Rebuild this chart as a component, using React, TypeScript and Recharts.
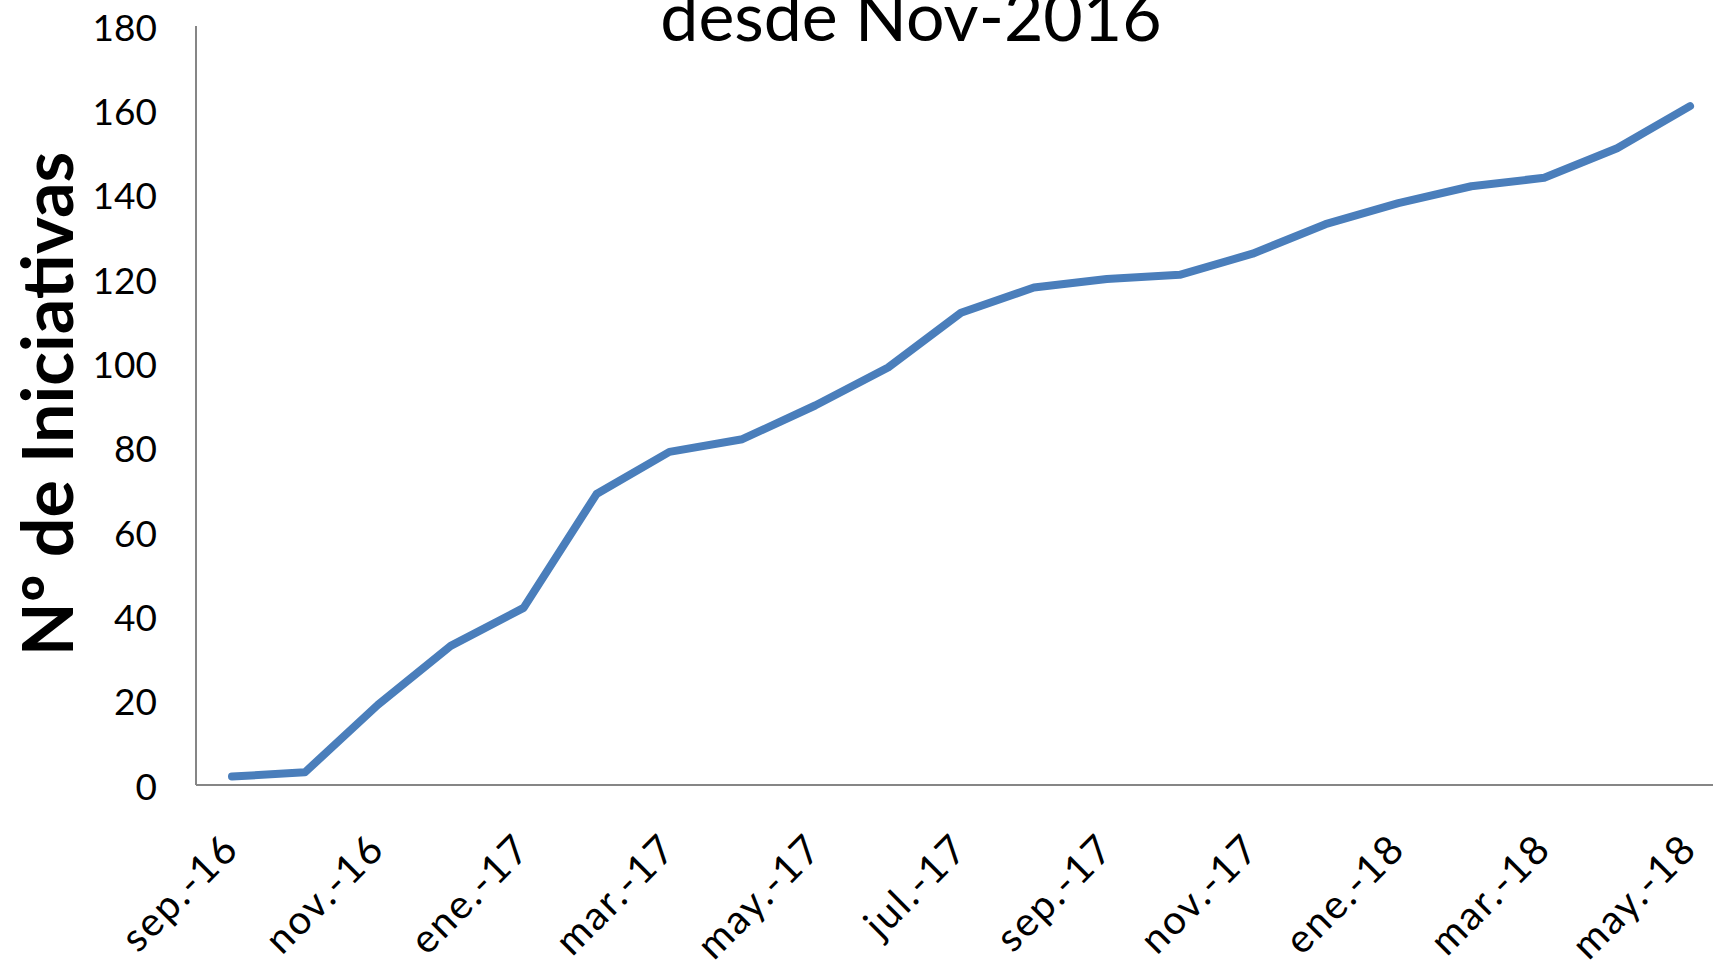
import React from 'react';
import { LineChart, Line, XAxis, YAxis, Label } from 'recharts';

// meses (uno por punto), de sep-16 a may-18
const meses = [
  'sep.-16', 'oct.-16', 'nov.-16', 'dic.-16',
  'ene.-17', 'feb.-17', 'mar.-17', 'abr.-17', 'may.-17', 'jun.-17',
  'jul.-17', 'ago.-17', 'sep.-17', 'oct.-17', 'nov.-17', 'dic.-17',
  'ene.-18', 'feb.-18', 'mar.-18', 'abr.-18', 'may.-18',
];

// Nº de iniciativas acumuladas
const iniciativas = [
  2, 3, 19, 33, 42, 69, 79, 82, 90, 99,
  112, 118, 120, 121, 126, 133, 138, 142, 144, 151, 161,
];

const yTicks = [0, 20, 40, 60, 80, 100, 120, 140, 160, 180];

const titulo = 'desde Nov-2016';
const ejeY = 'Nº de Iniciativas';

const data = meses.map((mes, i) => ({ mes, valor: iniciativas[i] }));

const FONT = 'Lato, "Open Sans", sans-serif';
const AXIS_COLOR = '#868686';

const XTick = (props: any) => {
  const { x, y, payload } = props;
  return (
    <g transform={`translate(${x + 9},${y + 66})`}>
      <text
        textAnchor="end"
        transform="rotate(-45)"
        fontFamily={FONT}
        fontSize={40}
        letterSpacing={2}
        fill="#000"
      >
        {payload.value}
      </text>
    </g>
  );
};

const YTick = (props: any) => {
  const { x, y, payload } = props;
  return (
    <text
      x={x}
      y={y}
      textAnchor="end"
      dominantBaseline="central"
      fontFamily={FONT}
      fontSize={37}
      fill="#000"
    >
      {payload.value}
    </text>
  );
};

export default function App() {
  return (
    <div
      style={{
        position: 'fixed',
        left: 0,
        top: 0,
        width: 1713,
        height: 970,
        overflow: 'hidden',
        background: '#fff',
      }}
    >
      <LineChart
        width={1730}
        height={970}
        data={data}
        margin={{ top: 26, right: 4, bottom: 0, left: 0 }}
      >
        <XAxis
          dataKey="mes"
          interval={1}
          padding={{ left: 36, right: 36 }}
          tickLine={false}
          tickSize={0}
          tickMargin={0}
          height={185}
          stroke={AXIS_COLOR}
          strokeWidth={2}
          tick={<XTick />}
        />
        <YAxis
          domain={[0, 180]}
          ticks={yTicks}
          width={196}
          tickLine={false}
          tickSize={0}
          tickMargin={39}
          stroke={AXIS_COLOR}
          strokeWidth={2}
          tick={<YTick />}
        >
          <Label
            content={() => (
              <text
                x={46}
                y={404}
                transform="rotate(-90 46 404)"
                textAnchor="middle"
                dominantBaseline="central"
                fontFamily={FONT}
                fontWeight={700}
                fontSize={70}
                fill="#000"
              >
                {ejeY}
              </text>
            )}
          />
        </YAxis>
        <Line
          type="linear"
          dataKey="valor"
          stroke="#4A7EBB"
          strokeWidth={8}
          strokeLinecap="round"
          strokeLinejoin="round"
          dot={false}
          activeDot={false}
          isAnimationActive={false}
        />
      </LineChart>
      <svg
        width={1713}
        height={80}
        style={{ position: 'absolute', left: 0, top: 0, pointerEvents: 'none' }}
      >
        <text
          x={911}
          y={41}
          textAnchor="middle"
          fontFamily={FONT}
          fontSize={68}
          fill="#000"
        >
          {titulo}
        </text>
      </svg>
    </div>
  );
}
